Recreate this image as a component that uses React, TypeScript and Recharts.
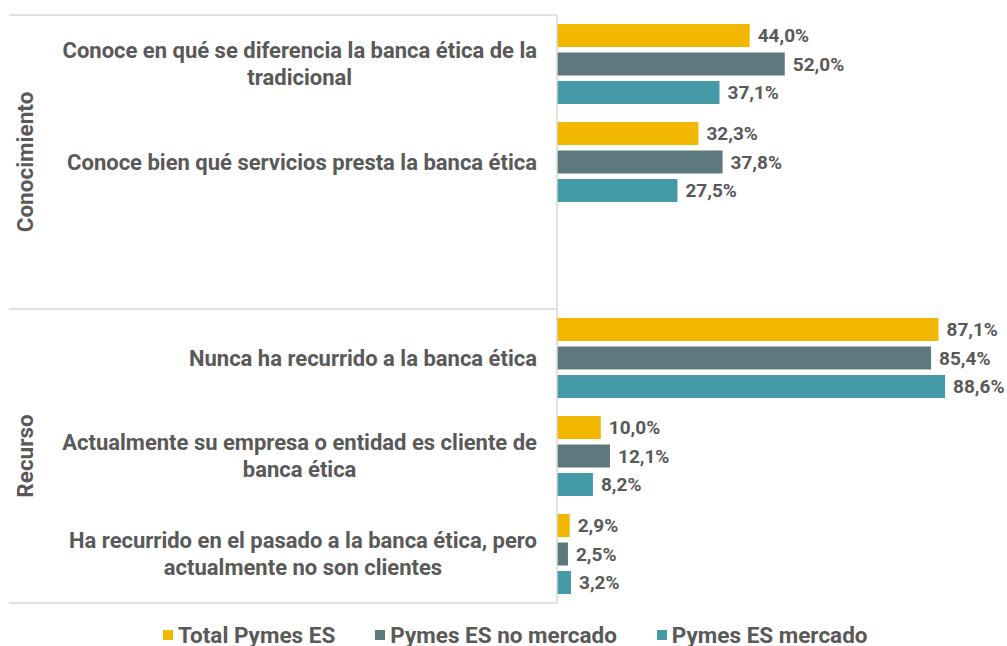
import React from "react";
import { BarChart, Bar, XAxis, YAxis, LabelList, Legend } from "recharts";

const categories = [
  "Conoce en qué se diferencia la banca ética de la\ntradicional",
  "Conoce bien qué servicios presta la banca ética",
  "",
  "Nunca ha recurrido a la banca ética",
  "Actualmente su empresa o entidad es cliente de\nbanca ética",
  "Ha recurrido en el pasado a la banca ética, pero\nactualmente no son clientes",
];
const groups = ["Conocimiento", "Conocimiento", "Conocimiento", "Recurso", "Recurso", "Recurso"];
const totalPymes = [44.0, 32.3, null, 87.1, 10.0, 2.9];
const pymesNoMercado = [52.0, 37.8, null, 85.4, 12.1, 2.5];
const pymesMercado = [37.1, 27.5, null, 88.6, 8.2, 3.2];
const seriesNames = ["Total Pymes ES", "Pymes ES no mercado", "Pymes ES mercado"];
const seriesColors = ["#F2B800", "#5E797D", "#449AA6"];

const data = categories.map((c, i) => ({
  key: "c" + i,
  label: c,
  group: groups[i],
  total: totalPymes[i],
  noMercado: pymesNoMercado[i],
  mercado: pymesMercado[i],
}));

const W = 1007;
const H = 646;
const TOP = 15;
const BOTTOM = 43;
const AXIS_W = 557;
const BAND = (H - TOP - BOTTOM) / categories.length;
const TEXT = "#595959";
const GRID = "#D9D9D9";
const FONT = "Roboto, 'Noto Sans', sans-serif";
const CAT_SIZE = 22;

let ctx: CanvasRenderingContext2D | null = null;
function measure(text: string, font: string) {
  if (!ctx) {
    const c = document.createElement("canvas");
    ctx = c.getContext("2d");
  }
  if (!ctx) return text.length * 10;
  ctx.font = font;
  return ctx.measureText(text).width;
}

const fmt = (v: any) => (v == null ? "" : Number(v).toFixed(1).replace(".", ",") + "%");

const CategoryTick = (props: any) => {
  const { y, payload, index } = props;
  const item = data.find((d) => d.key === payload.value);
  const label = item ? item.label : "";
  const lines = label ? label.split("\n") : [];
  const font = `bold ${CAT_SIZE}px Roboto`;
  const maxW = Math.max(0, ...lines.map((l) => measure(l, font)));
  const right = AXIS_W - 20;
  const cx = right - maxW / 2;
  const lh = 27;
  const startY = y - ((lines.length - 1) * lh) / 2;
  const extras: any[] = [];
  const isGroupStart = index === 0 || groups[index] !== groups[index - 1];
  if (isGroupStart) {
    const g = groups[index];
    const count = groups.filter((x) => x === g).length;
    const top = y - BAND / 2;
    const mid = top + (count * BAND) / 2;
    extras.push(
      <line key="top" x1={9} x2={AXIS_W} y1={top} y2={top} stroke={GRID} strokeWidth={1.5} />
    );
    extras.push(
      <text
        key="g"
        x={25}
        y={mid}
        transform={`rotate(-90, 25, ${mid})`}
        textAnchor="middle"
        dominantBaseline="central"
        fill={TEXT}
        fontSize={22.5}
        fontWeight="bold"
        fontFamily={FONT}
      >
        {g}
      </text>
    );
  }
  if (index === categories.length - 1) {
    const b = y + BAND / 2;
    extras.push(<line key="bot" x1={9} x2={AXIS_W} y1={b} y2={b} stroke={GRID} strokeWidth={1.5} />);
  }
  return (
    <g>
      {extras}
      {lines.map((l, i) => (
        <text
          key={i}
          x={cx}
          y={startY + i * lh}
          textAnchor="middle"
          dominantBaseline="central"
          fill={TEXT}
          fontSize={CAT_SIZE}
          fontWeight="bold"
          fontFamily={FONT}
        >
          {l}
        </text>
      ))}
    </g>
  );
};

const LegendContent = () => (
  <div
    style={{
      display: "flex",
      alignItems: "center",
      paddingLeft: 163,
      paddingTop: 21,
      height: 22,
      fontFamily: FONT,
      fontSize: 22.5,
      fontWeight: "bold",
      color: TEXT,
      whiteSpace: "nowrap",
    }}
  >
    {seriesNames.map((n, i) => (
      <div key={n} style={{ display: "flex", alignItems: "center", marginRight: 40 }}>
        <span style={{ width: 10, height: 10, background: seriesColors[i], marginRight: 5, display: "inline-block" }} />
        <span style={{ lineHeight: "22px" }}>{n}</span>
      </div>
    ))}
  </div>
);

export default function App() {
  return (
    <div style={{ position: "absolute", left: 0, top: 0, width: W, height: H, background: "#fff", fontFamily: FONT }}>
      <BarChart
        width={W}
        height={H}
        data={data}
        layout="vertical"
        margin={{ top: TOP, right: 12, bottom: 0, left: 0 }}
        barSize={23}
        barGap={5.5}
      >
        <XAxis type="number" domain={[0, 100]} hide />
        <YAxis
          type="category"
          dataKey="key"
          width={AXIS_W}
          axisLine={{ stroke: GRID, strokeWidth: 1.5 }}
          tickLine={false}
          interval={0}
          tick={<CategoryTick />}
        />
        <Legend
          verticalAlign="bottom"
          align="left"
          wrapperStyle={{ height: BOTTOM, left: 0, width: W }}
          content={<LegendContent />}
        />
        <Bar dataKey="total" name={seriesNames[0]} fill={seriesColors[0]} isAnimationActive={false}>
          <LabelList dataKey="total" position="right" offset={8} formatter={fmt} fill={TEXT} fontSize={19} fontWeight="bold" fontFamily={FONT} />
        </Bar>
        <Bar dataKey="noMercado" name={seriesNames[1]} fill={seriesColors[1]} isAnimationActive={false}>
          <LabelList dataKey="noMercado" position="right" offset={8} formatter={fmt} fill={TEXT} fontSize={19} fontWeight="bold" fontFamily={FONT} />
        </Bar>
        <Bar dataKey="mercado" name={seriesNames[2]} fill={seriesColors[2]} isAnimationActive={false}>
          <LabelList dataKey="mercado" position="right" offset={8} formatter={fmt} fill={TEXT} fontSize={19} fontWeight="bold" fontFamily={FONT} />
        </Bar>
      </BarChart>
    </div>
  );
}
